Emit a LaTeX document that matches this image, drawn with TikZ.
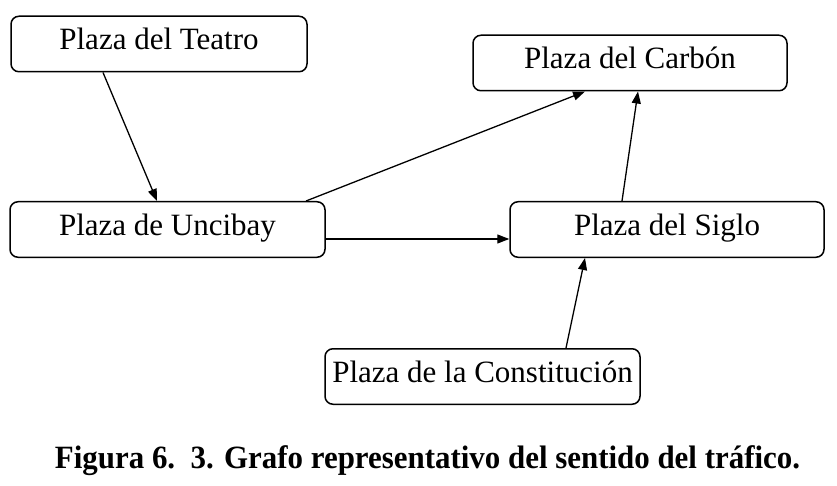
\documentclass[tikz,border=0pt]{standalone}
\usepackage{fontspec}
\usepackage{graphicx}
\setmainfont{Liberation Serif}
\usetikzlibrary{arrows.meta,calc}
\begin{document}
\begin{tikzpicture}[x=1pt,y=-1pt,
  plaza/.style={draw=black,line width=1.5pt,rounded corners=8pt,inner xsep=0pt,inner ysep=0pt,
    text height=33.5pt,text depth=22pt,font=\fontsize{31}{36}\selectfont},
  link/.style={line width=1.3pt,-{Triangle[length=12pt,width=9pt]}}]
\useasboundingbox (0,0) rectangle (837,486);
\node[plaza,minimum width=296pt] (teatro) at (159,44) {Plaza del Teatro};
\node[plaza,minimum width=314pt] (carbon) at (630,63) {Plaza del Carbón};
\node[plaza,minimum width=315pt] (uncibay) at (167.5,229.5) {Plaza de Uncibay};
\node[plaza,minimum width=314pt] (siglo) at (667,229.5) {Plaza del Siglo};
\node[plaza,minimum width=315pt] (constit) at (482.5,376.5) {Plaza de la Constitución};
\draw[link] ([xshift=-56pt]teatro.south) -- ([xshift=-10.5pt]uncibay.north);
\draw[link] ([xshift=138.5pt]uncibay.north) -- ([xshift=-45pt]carbon.south);
\draw[link] ([yshift=-9.5pt]uncibay.east) -- ([yshift=-9.5pt]siglo.west);
\draw[link] ([xshift=-45pt]siglo.north) -- ([xshift=8pt]carbon.south);
\draw[link] ([xshift=83.5pt]constit.north) -- ([xshift=-82pt]siglo.south);
\node[anchor=base,inner sep=0pt] (caption) at (427.5,468.5)
  {\resizebox{745pt}{\height}{\fontsize{32.5}{38}\selectfont\bfseries Figura 6.\ \ 3. Grafo representativo del sentido del tráfico.}};
\end{tikzpicture}
\end{document}
